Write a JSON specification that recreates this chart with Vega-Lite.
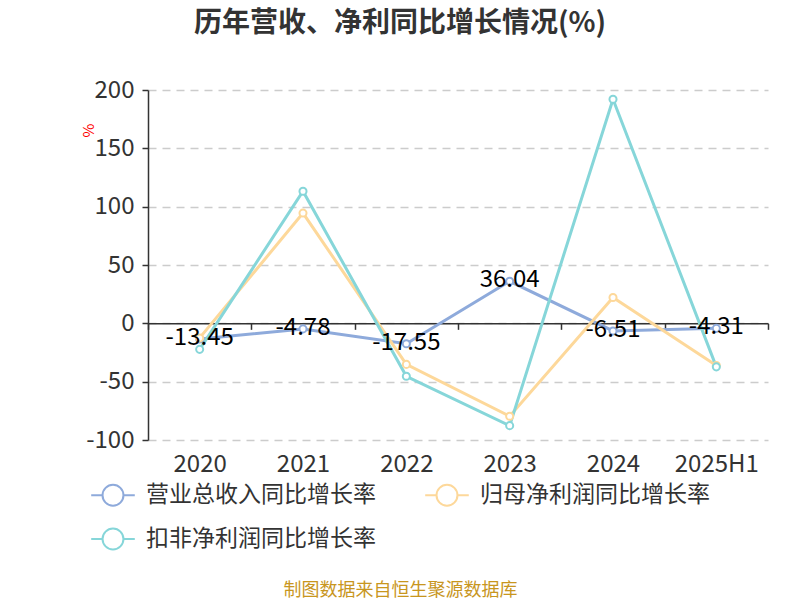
{
  "$schema": "https://vega.github.io/schema/vega-lite/v6.json",
  "autosize": {"type": "none"},
  "width": 620,
  "height": 350,
  "padding": {"left": 148, "top": 90, "right": 32, "bottom": 160},
  "title": {
    "text": "历年营收、净利同比增长情况(%)",
    "fontSize": 28,
    "fontWeight": "bold",
    "color": "#333333",
    "anchor": "middle",
    "dx": -58,
    "offset": 40
  },
  "data": {
    "values": [
      {"period": "2020", "series": "营业总收入同比增长率", "value": -13.45},
      {"period": "2021", "series": "营业总收入同比增长率", "value": -4.78},
      {"period": "2022", "series": "营业总收入同比增长率", "value": -17.55},
      {"period": "2023", "series": "营业总收入同比增长率", "value": 36.04},
      {"period": "2024", "series": "营业总收入同比增长率", "value": -6.51},
      {"period": "2025H1", "series": "营业总收入同比增长率", "value": -4.31},
      {"period": "2020", "series": "归母净利润同比增长率", "value": -12.5},
      {"period": "2021", "series": "归母净利润同比增长率", "value": 94.5},
      {"period": "2022", "series": "归母净利润同比增长率", "value": -35.2},
      {"period": "2023", "series": "归母净利润同比增长率", "value": -79.6},
      {"period": "2024", "series": "归母净利润同比增长率", "value": 22.1},
      {"period": "2025H1", "series": "归母净利润同比增长率", "value": -36.2},
      {"period": "2020", "series": "扣非净利润同比增长率", "value": -22.3},
      {"period": "2021", "series": "扣非净利润同比增长率", "value": 113.2},
      {"period": "2022", "series": "扣非净利润同比增长率", "value": -45.4},
      {"period": "2023", "series": "扣非净利润同比增长率", "value": -87.7},
      {"period": "2024", "series": "扣非净利润同比增长率", "value": 192.1},
      {"period": "2025H1", "series": "扣非净利润同比增长率", "value": -37.3}
    ]
  },
  "layer": [
    {
      "mark": {"type": "line", "strokeWidth": 3},
      "encoding": {
        "x": {
          "field": "period",
          "type": "ordinal",
          "bandPosition": 0.5,
          "scale": {"type": "band", "paddingInner": 0, "paddingOuter": 0},
          "axis": {
            "orient": "bottom",
            "offset": -116.67,
            "domainColor": "#333333",
            "domainWidth": 1.5,
            "tickColor": "#333333",
            "tickWidth": 1.5,
            "tickSize": 6,
            "tickBand": "extent",
            "grid": false,
            "labelAngle": 0,
            "labelFontSize": 24,
            "labelColor": "#333333",
            "labelPadding": 123,
            "title": "制图数据来自恒生聚源数据库",
            "titleFontSize": 18,
            "titleFontWeight": "normal",
            "titleColor": "#c8961e",
            "titleX": 252,
            "titleY": 267,
            "titleAlign": "center",
            "titleBaseline": "middle"
          }
        },
        "y": {
          "field": "value",
          "type": "quantitative",
          "scale": {"domain": [-100, 200], "nice": false},
          "axis": {
            "values": [-100, -50, 0, 50, 100, 150, 200],
            "labelExpr": "replace(datum.label, '−', '-')",
            "labelFontSize": 24,
            "labelColor": "#333333",
            "labelPadding": 8,
            "domainColor": "#333333",
            "domainWidth": 1.5,
            "tickColor": "#333333",
            "tickWidth": 1.5,
            "tickSize": 6,
            "gridColor": "#cccccc",
            "gridWidth": 1.5,
            "gridDash": [8, 6],
            "title": "%",
            "titleColor": "#ff0000",
            "titleFontSize": 15,
            "titleFontWeight": "normal",
            "titleAngle": 270,
            "titleX": -60,
            "titleY": 40,
            "titleAlign": "center",
            "titleBaseline": "middle"
          }
        },
        "color": {
          "field": "series",
          "type": "nominal",
          "scale": {
            "domain": ["营业总收入同比增长率", "归母净利润同比增长率", "扣非净利润同比增长率"],
            "range": ["#8eaadb", "#fdd89a", "#86d6d9"]
          },
          "legend": {
            "orient": "none",
            "legendX": -58,
            "legendY": 382,
            "direction": "horizontal",
            "columns": 2,
            "title": null,
            "symbolType": "M-1,0L-0.48,0M0.48,0L1,0M-0.48,0A0.48,0.48 0 1,1 0.48,0A0.48,0.48 0 1,1 -0.48,0",
            "symbolSize": 1900,
            "symbolStrokeWidth": 2,
            "symbolFillColor": "transparent",
            "labelFontSize": 23,
            "labelColor": "#333333",
            "labelOffset": 10,
            "labelLimit": 0,
            "columnPadding": 45,
            "rowPadding": 6
          }
        },
        "order": {"field": "series"}
      }
    },
    {
      "mark": {"type": "point", "filled": true, "fill": "white", "size": 50, "strokeWidth": 2, "opacity": 1},
      "encoding": {
        "x": {"field": "period", "type": "ordinal", "bandPosition": 0.5},
        "y": {"field": "value", "type": "quantitative"},
        "stroke": {
          "field": "series",
          "type": "nominal",
          "scale": {
            "domain": ["营业总收入同比增长率", "归母净利润同比增长率", "扣非净利润同比增长率"],
            "range": ["#8eaadb", "#fdd89a", "#86d6d9"]
          },
          "legend": null
        }
      }
    },
    {
      "transform": [
        {"filter": "datum.series == '营业总收入同比增长率'"},
        {"calculate": "replace(format(datum.value, '.2f'), '−', '-')", "as": "label"}
      ],
      "mark": {"type": "text", "fontSize": 24, "color": "#000000", "baseline": "middle", "dy": -1},
      "encoding": {
        "x": {"field": "period", "type": "ordinal", "bandPosition": 0.5},
        "y": {"field": "value", "type": "quantitative"},
        "text": {"field": "label", "type": "nominal"}
      }
    }
  ],
  "config": {
    "font": "Noto Sans CJK SC",
    "view": {"stroke": null}
  }
}
